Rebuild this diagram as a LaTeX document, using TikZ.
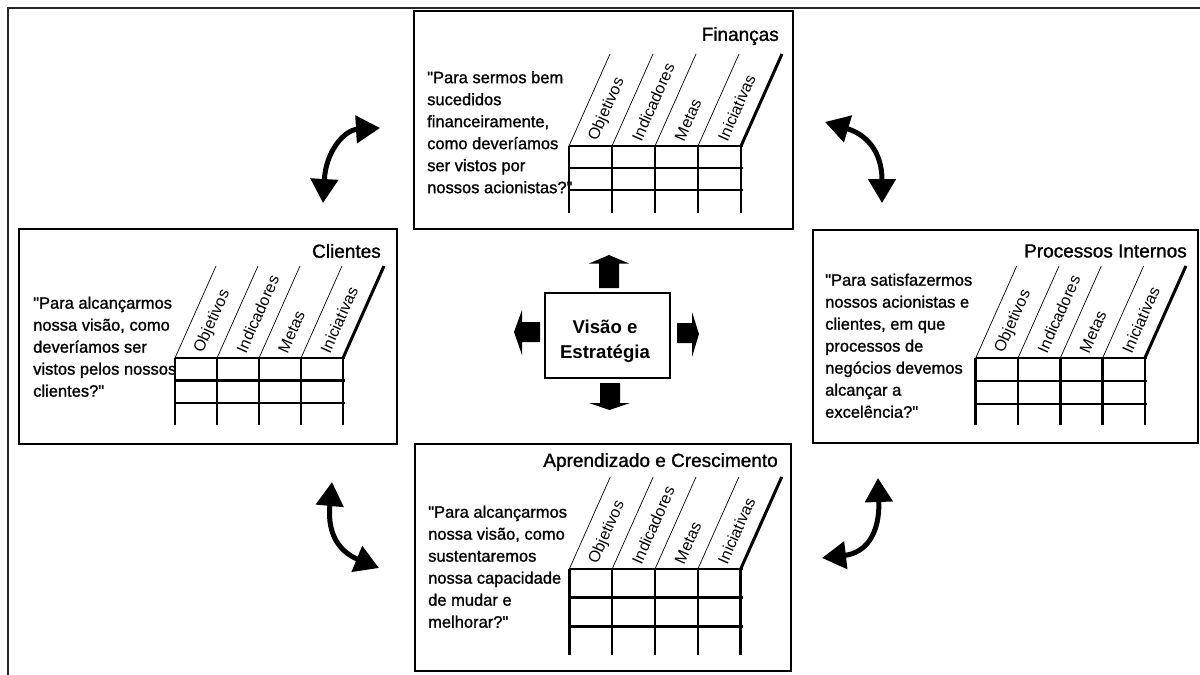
\documentclass[tikz,border=0pt]{standalone}
\usepackage{fontspec}
\setmainfont{Liberation Sans}[Ligatures=TeXOff]
\newfontfamily\heavyfont{Liberation Sans}[Ligatures=TeXOff, FakeBold=1.2]
\usetikzlibrary{arrows.meta,calc}

\tikzset{
  panel/.style={draw, line width=2pt, minimum width=#1, anchor=north west, inner sep=0pt},
  gridline/.style={line width=2.5pt},
  slantthin/.style={line width=0.7pt},
  slantthick/.style={line width=3pt},
  colhead/.style={font=\fontsize{16}{16}\selectfont, rotate=66, anchor=west, inner sep=0pt},
  question/.style={font=\heavyfont\fontsize{16.5}{22}\selectfont, align=left, anchor=north west, inner sep=0pt},
  paneltitle/.style={font=\heavyfont\fontsize{19}{19}\selectfont, anchor=east, inner sep=0pt},
  swaparrow/.style={line width=5pt,
    {Triangle[length=24pt,width=27pt]}-{Triangle[length=24pt,width=27pt]}},
  blockarrow/.style={fill=black},
}

% scorecard table: #1 name, #2 left x, #3 top y, #4 column width, #5 row height, #6 bottom y
\newcommand\bsctable[6]{%
  \foreach \i in {0,...,4} {\draw[gridline] (#2+\i*#4, #3) -- (#2+\i*#4, #6);}
  \foreach \j in {0,1,2} {\draw[gridline] (#2, #3+\j*#5) -- (#2+4*#4+2, #3+\j*#5);}
  \foreach \i in {0,...,3} {\draw[slantthin] (#2+\i*#4, #3) -- ++(41,-92);}
  \draw[slantthick] (#2+4*#4, #3) -- ++(41,-92);
  \foreach \t [count=\k from 0] in {Objetivos,Indicadores,Metas,Iniciativas}
    {\node[colhead] (#1-\k) at (#2+\k*#4+0.5*#4+2.7, #3-6) {\t};}
}

\begin{document}
\begin{tikzpicture}[x=1pt,y=-1pt]
\useasboundingbox (0,0) rectangle (1200,675);

% outer frame
\draw[line width=2pt, black!85] (8,675) -- (8,8) -- (1200,8);

% perspective panels
\node[panel=379pt, minimum height=218pt] (fin) at (413,10) {};
\node[panel=378pt, minimum height=215pt] (cli) at (18,228) {};
\node[panel=385pt, minimum height=213pt] (proc) at (812,229) {};
\node[panel=376pt, minimum height=227pt] (apr) at (414,443) {};

% titles
\node[paneltitle] (fin-t) at (779,36) {Finanças};
\node[paneltitle] (cli-t) at (381,251) {Clientes};
\node[paneltitle] (proc-t) at (1187,251) {Processos Internos};
\node[paneltitle] (apr-t) at (778,462) {Aprendizado e Crescimento};

% questions
\node[question] (fin-q) at (427,71) {"Para sermos bem\\sucedidos\\financeiramente,\\como deveríamos\\ser vistos por\\nossos acionistas?"};
\node[question] (cli-q) at (33,296.5) {"Para alcançarmos\\nossa visão, como\\deveríamos ser\\vistos pelos nossos\\clientes?"};
\node[question] (proc-q) at (825,273.5) {"Para satisfazermos\\nossos acionistas e\\clientes, em que\\processos de\\negócios devemos\\alcançar a\\excelência?"};
\node[question] (apr-q) at (428,505.5) {"Para alcançarmos\\nossa visão, como\\sustentaremos\\nossa capacidade\\de mudar e\\melhorar?"};

% tables
\bsctable{fintab}{569}{146}{43}{22}{213}
\bsctable{clitab}{175}{358}{42}{22.5}{425}
\bsctable{proctab}{975.7}{358}{42.3}{23}{425}
\bsctable{aprtab}{569.3}{569}{42.85}{28.7}{655}

% vision and strategy
\node[draw, line width=1.3pt, minimum width=125pt, minimum height=85pt, inner sep=0pt] (vis) at (607.5,335.5) {};
\node[font=\bfseries\fontsize{18.6}{25}\selectfont, align=center, inner sep=0pt] (vis-t) at (605,341) {Visão e\\Estratégia};

% block arrows around the centre box
\fill[blockarrow] (609,255) -- (629,263.5) -- (619,263.5) -- (619,288) -- (599,288) -- (599,263.5) -- (589,263.5) -- cycle;
\fill[blockarrow] (609.5,410) -- (630,403) -- (620,403) -- (620,383) -- (600,383) -- (600,403) -- (589,403) -- cycle;
\fill[blockarrow] (514,332) -- (522,310) -- (522,322) -- (540,322) -- (540,342) -- (522,342) -- (522,355) -- cycle;
\fill[blockarrow] (699,334) -- (692,312) -- (692,323) -- (677,323) -- (677,343) -- (692,343) -- (692,357) -- cycle;

% two-way arrows between neighbouring perspectives
\coordinate (tl-a) at (323,203); \coordinate (tl-b) at (380,128);
\coordinate (tr-a) at (825,122); \coordinate (tr-b) at (882,203);
\coordinate (bl-a) at (332,482); \coordinate (bl-b) at (379,568);
\coordinate (br-a) at (878,478); \coordinate (br-b) at (822,558);
\draw[swaparrow] (tl-a) .. controls (326,150) and (345,130) .. (tl-b);
\draw[swaparrow] (tr-a) .. controls (865,134) and (882,150) .. (tr-b);
\draw[swaparrow] (bl-a) .. controls (327,535) and (340,552) .. (bl-b);
\draw[swaparrow] (br-a) .. controls (880,535) and (865,553) .. (br-b);
\end{tikzpicture}
\end{document}
